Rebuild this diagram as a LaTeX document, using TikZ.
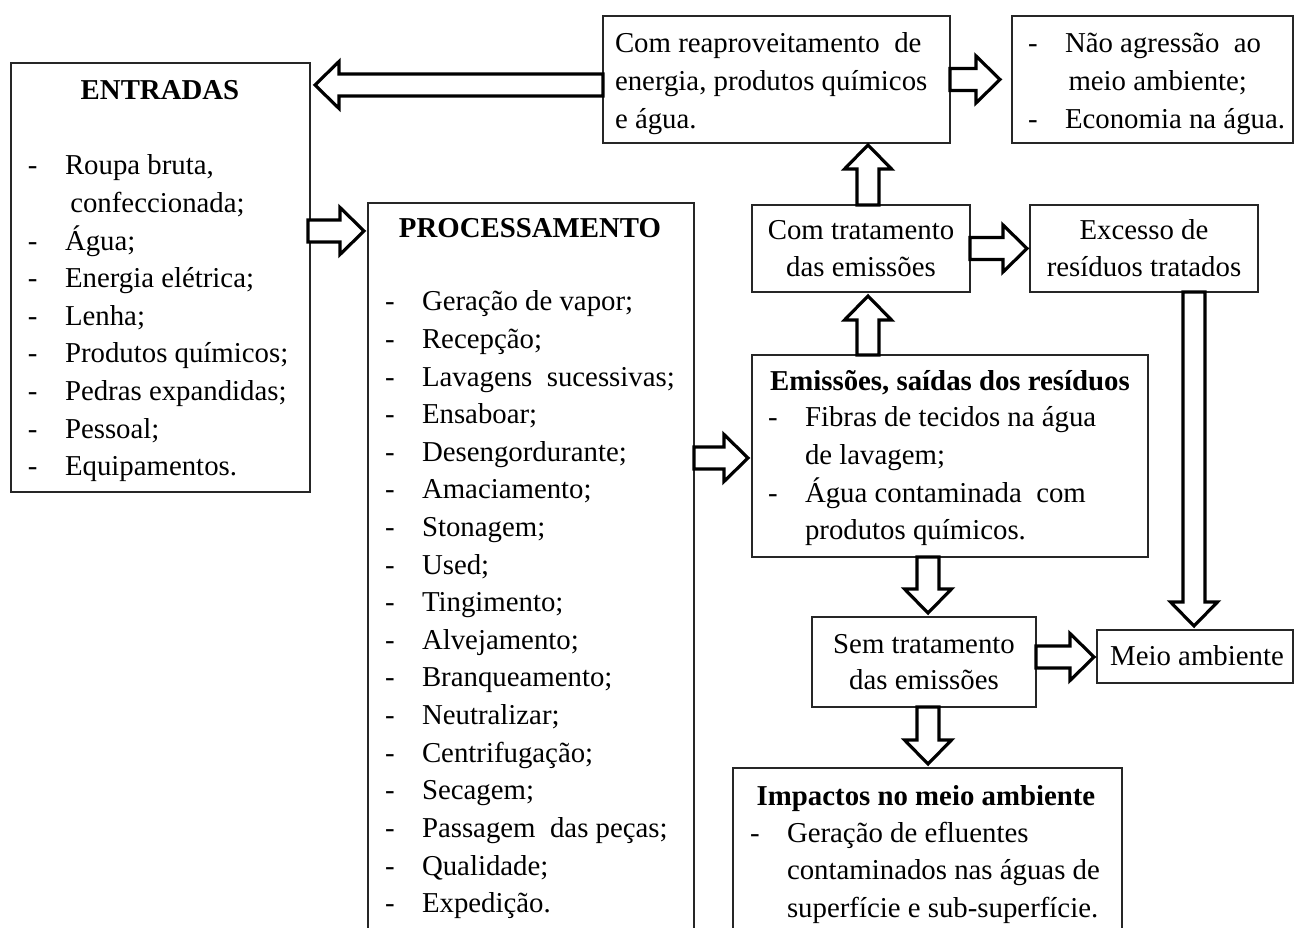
\documentclass[tikz,border=0pt]{standalone}
\usepackage{fontspec}
\setmainfont{Liberation Serif}
\usetikzlibrary{calc,fit}
\tikzset{
  box/.style={draw=black!85, line width=0.8pt, inner sep=0pt, outer sep=0pt},
  txt/.style={inner sep=0pt, outer sep=0pt, font=\fontsize{16.4}{21.3}\selectfont},
  ttl/.style={txt, font=\fontsize{16.4}{21.3}\selectfont\bfseries},
  barrow/.style={draw=black, line width=1.8pt, fill=white, line join=miter}
}
% block arrow from #1 to #2
\newcommand\blockarrow[2]{%
  \draw[barrow] let \p1=(#1), \p2=(#2),
     \n1={atan2(\y2-\y1,\x2-\x1)}, \n2={veclen(\x2-\x1,\y2-\y1)} in
     [shift={(\p1)}, rotate=\n1]
     (0pt,-0.22cm) -- ({\n2-0.48cm},-0.22cm) -- ({\n2-0.48cm},-0.47cm)
     -- (\n2,0pt) -- ({\n2-0.48cm},0.47cm) -- ({\n2-0.48cm},0.22cm)
     -- (0pt,0.22cm) -- cycle;}
% list: #1 prefix, #2 dash x, #3 text x, #4 first baseline, #5 items dash/text
\newcommand\itemlist[5]{%
  \foreach \d/\t [count=\i] in {#5} {
    \node[txt, anchor=base west] (#1t\i) at (#3, {#4+37.6*(\i-1)}) {\t};
    \node[txt, anchor=base west] (#1d\i) at (#2, {#4+37.6*(\i-1)}) {\d};
  }}
\begin{document}
\begin{tikzpicture}[x=0.02cm, y=-0.02cm]
\useasboundingbox (0,0) rectangle (1295,928);
\fill[white] (0,0) rectangle (1295,928);
\clip (0,0) rectangle (1295,928);

% boxes
\node[box, fit={(11,63) (310,492)}] (entr) {};
\node[box, fit={(368,203) (694,945)}] (proc) {};
\node[box, fit={(603,16) (950,143)}] (reap) {};
\node[box, fit={(1012,16) (1293,143)}] (benef) {};
\node[box, fit={(752,205) (970,292)}] (comtrat) {};
\node[box, fit={(1030,205) (1258,292)}] (exc) {};
\node[box, fit={(752,355) (1148,557)}] (emis) {};
\node[box, fit={(812,617) (1036,707)}] (sem) {};
\node[box, fit={(1097,630) (1293,683)}] (meio) {};
\node[box, fit={(733,768) (1122,945)}] (imp) {};

% ENTRADAS
\node[ttl, anchor=base] (entrT) at (160,100) {ENTRADAS};
\itemlist{en}{28}{65}{175}{{-/Roupa bruta,}, { /\hspace*{3pt}confeccionada;}, -/Água;, -/Energia elétrica;, -/Lenha;, -/Produtos químicos;, -/Pedras expandidas;, -/Pessoal;, -/Equipamentos.}

% PROCESSAMENTO
\node[ttl, anchor=base] (procT) at (530,238) {PROCESSAMENTO};
\itemlist{pr}{385}{422}{311}{-/Geração de vapor;, -/Recepção;, -/Lavagens\ \ sucessivas;, -/Ensaboar;, -/Desengordurante;, -/Amaciamento;, -/Stonagem;, -/Used;, -/Tingimento;, -/Alvejamento;, -/Branqueamento;, -/Neutralizar;, -/Centrifugação;, -/Secagem;, -/Passagem\ \ das peças;, -/Qualidade;, -/Expedição.}

% reaproveitamento
\itemlist{re}{603}{615}{53}{ /Com reaproveitamento\ \ de, { /energia, produtos químicos}, /e água.}

% beneficios
\itemlist{be}{1028}{1065}{53}{-/Não agressão\ \ ao, /\hspace*{2pt}meio ambiente;, -/Economia na água.}

% com tratamento
\node[txt, anchor=base] (ct1) at (861,240) {Com tratamento};
\node[txt, anchor=base] (ct2) at (861,277) {das emissões};

% excesso
\node[txt, anchor=base] (ex1) at (1144,240) {Excesso de};
\node[txt, anchor=base] (ex2) at (1144,277) {resíduos tratados};

% emissoes
\node[ttl, anchor=base] (emT) at (950,391) {Emissões, saídas dos resíduos};
\itemlist{em}{768}{805}{427}{-/Fibras de tecidos na água, /de lavagem;, -/Água contaminada\ \ com, /produtos químicos.}

% sem tratamento
\node[txt, anchor=base] (st1) at (924,654) {Sem tratamento};
\node[txt, anchor=base] (st2) at (924,690) {das emissões};

% meio ambiente
\node[txt, anchor=base] (ma) at (1197,666) {Meio ambiente};

% impactos
\node[ttl, anchor=base] (imT) at (926,806) {Impactos no meio ambiente};
\itemlist{im}{750}{787}{842}{-/Geração de efluentes, /contaminados nas águas de, /superfície e sub-superfície.}

% arrows
\blockarrow{$(reap.west)+(0,5.5)$}{$(entr.east |- reap.west)+(5,5.5)$}
\blockarrow{$(entr.east |- proc.north)+(-2,28)$}{$(proc.north west)+(-4,28)$}
\blockarrow{reap.east}{$(benef.west)+(-12,0)$}
\blockarrow{$(comtrat.north west)+(116,0)$}{$(reap.south west)+(265,2)$}
\blockarrow{$(emis.north west)+(116,0)$}{$(comtrat.south west)+(116,4)$}
\blockarrow{comtrat.east}{$(exc.west)+(-3,0)$}
\blockarrow{$(exc.south west)+(164,0)$}{$(meio.north west)+(97,-4)$}
\blockarrow{$(proc.east |- emis.west)+(0,2)$}{$(emis.west)+(-4,2)$}
\blockarrow{$(emis.south west)+(176,0)$}{$(sem.north west)+(116,-4)$}
\blockarrow{$(sem.east |- meio.west)+(0,0.5)$}{$(meio.west)+(-3,0.5)$}
\blockarrow{$(sem.south west)+(116,0)$}{$(imp.north west)+(195,-4)$}
\end{tikzpicture}
\end{document}
